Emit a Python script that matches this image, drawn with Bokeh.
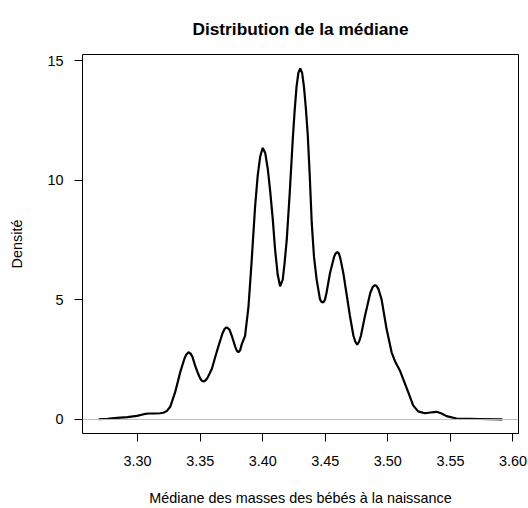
from bokeh.plotting import figure
from bokeh.models import FixedTicker, Span, NumeralTickFormatter
from bokeh.embed import file_html
from bokeh.resources import INLINE

# Density curve of the median
median_mass = [
    3.2689, 3.2760, 3.2836, 3.2920, 3.2995, 3.3050, 3.3088, 3.3140, 3.3181, 3.3207,
    3.3235, 3.3261, 3.3301, 3.3341, 3.3375, 3.3390, 3.3407, 3.3425, 3.3440, 3.3460,
    3.3485, 3.3500, 3.3513, 3.3527, 3.3543, 3.3560, 3.3594, 3.3620, 3.3647, 3.3680,
    3.3695, 3.3708, 3.3720, 3.3735, 3.3753, 3.3780, 3.3793, 3.3806, 3.3820, 3.3833,
    3.3859, 3.3886, 3.3910, 3.3939, 3.3960, 3.3980, 3.4000, 3.4020, 3.4040, 3.4059,
    3.4080, 3.4099, 3.4120, 3.4139, 3.4160, 3.4175, 3.4192, 3.4215, 3.4240, 3.4255,
    3.4270, 3.4285, 3.4300, 3.4315, 3.4330, 3.4345, 3.4360, 3.4375, 3.4392, 3.4410,
    3.4431, 3.4458, 3.4470, 3.4484, 3.4497, 3.4510, 3.4538, 3.4570, 3.4583, 3.4596,
    3.4608, 3.4620, 3.4644, 3.4670, 3.4697, 3.4725, 3.4740, 3.4755, 3.4770, 3.4785,
    3.4817, 3.4860, 3.4880, 3.4897, 3.4910, 3.4925, 3.4950, 3.4990, 3.5030, 3.5060,
    3.5096, 3.5122, 3.5162, 3.5202, 3.5242, 3.5296, 3.5340, 3.5389, 3.5430, 3.5469,
    3.5548, 3.5650, 3.5734, 3.5915,
]
density = [
    0.01, 0.03, 0.07, 0.10, 0.15, 0.22, 0.25, 0.25, 0.26, 0.28,
    0.36, 0.53, 1.15, 1.98, 2.55, 2.72, 2.81, 2.75, 2.60, 2.25,
    1.90, 1.72, 1.62, 1.59, 1.63, 1.75, 2.12, 2.60, 3.08, 3.62,
    3.78, 3.85, 3.83, 3.75, 3.50, 3.05, 2.88, 2.81, 2.90, 3.15,
    3.50, 4.70, 6.50, 8.89, 10.20, 11.00, 11.36, 11.15, 10.50, 9.59,
    8.40, 7.10, 6.05, 5.57, 5.85, 6.55, 7.51, 9.40, 11.70, 12.90,
    13.90, 14.50, 14.68, 14.50, 13.90, 13.00, 11.90, 10.30, 8.20, 6.80,
    5.85, 5.02, 4.92, 4.90, 5.00, 5.30, 6.13, 6.80, 6.95, 7.00,
    6.95, 6.75, 6.13, 5.25, 4.33, 3.50, 3.25, 3.13, 3.25, 3.50,
    4.33, 5.30, 5.55, 5.62, 5.58, 5.45, 5.02, 3.78, 2.81, 2.40,
    2.05, 1.70, 1.15, 0.59, 0.34, 0.26, 0.29, 0.32, 0.25, 0.14,
    0.04, 0.03, 0.02, 0.00,
]

x_ticks = [3.30, 3.35, 3.40, 3.45, 3.50, 3.55, 3.60]
y_ticks = [0, 5, 10, 15]

title_text = "Distribution de la médiane"
x_label = "Médiane des masses des bébés à la naissance"
y_label = "Densité"

FONT = "Liberation Sans"

# R-style 4% range expansion
xmin, xmax = min(median_mass), max(median_mass)
ymin, ymax = min(density), max(density)
xpad = 0.04 * (xmax - xmin)
ypad = 0.04 * (ymax - ymin)

p = figure(
    width=528, height=508,
    x_range=(xmin - xpad, xmax + xpad),
    y_range=(ymin - ypad, ymax + ypad),
    output_backend="svg", toolbar_location=None,
    min_border_left=82, min_border_right=10,
    min_border_top=53, min_border_bottom=74,
    title=title_text,
)

p.background_fill_color = "white"
p.border_fill_color = "white"
p.outline_line_color = "black"
p.outline_line_width = 1
p.outline_line_alpha = 1.0
p.xgrid.visible = False
p.ygrid.visible = False

p.title.align = "center"
p.title.text_font = FONT
p.title.text_font_size = "17.3px"
p.title.text_font_style = "bold"
p.title.text_color = "black"
p.title.standoff = 32

for ax in (p.xaxis[0], p.yaxis[0]):
    ax.axis_line_color = None
    ax.major_tick_in = 0
    ax.major_tick_out = 8
    ax.major_tick_line_color = "black"
    ax.minor_tick_line_color = None
    ax.major_label_text_font = FONT
    ax.major_label_text_font_size = "14.4px"
    ax.major_label_text_color = "black"
    ax.axis_label_text_font = FONT
    ax.axis_label_text_font_size = "14.4px"
    ax.axis_label_text_font_style = "normal"
    ax.axis_label_text_color = "black"

p.xaxis.ticker = FixedTicker(ticks=x_ticks)
p.xaxis.formatter = NumeralTickFormatter(format="0.00")
p.xaxis.major_label_standoff = 14
p.xaxis.axis_label = x_label
p.xaxis.axis_label_standoff = 21

p.yaxis.ticker = FixedTicker(ticks=y_ticks)
p.yaxis.major_label_standoff = 11
p.yaxis.axis_label = y_label
p.yaxis.axis_label_standoff = 19

p.add_layout(Span(location=0, dimension="width", line_color="#bebebe", line_width=1))

p.line(median_mass, density, line_color="black", line_width=2.2)

open("out.html", "w").write(file_html(p, INLINE))
